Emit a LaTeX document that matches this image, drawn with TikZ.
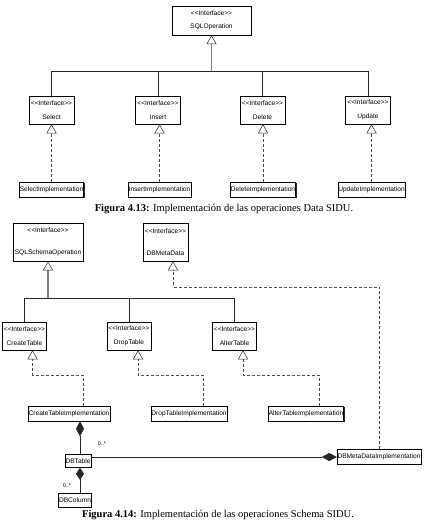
\documentclass[tikz,border=0pt]{standalone}
\usepackage{fontspec}
\setmainfont{Liberation Serif}
\setsansfont{Liberation Sans}
\usetikzlibrary{arrows.meta,shadows}
\tikzset{
  box/.style={rectangle, fill=white, draw=black, line width=0.5pt, inner sep=0.5pt,
    general shadow={shadow xshift=0.9pt, shadow yshift=-0.9pt, fill=black!85}},
  iface/.style={box, minimum width=45pt, minimum height=28pt, align=center,
    font=\sffamily\fontsize{6.6}{14}\selectfont},
  impl/.style={box, minimum height=15pt, font=\sffamily\fontsize{6.6}{8}\selectfont},
  gen/.style={draw=black!85, line width=0.5pt},
  trunk/.style={draw=black!50, line width=1.4pt,
    -{Triangle[open, length=9pt, width=10pt, line width=0.5pt, color=black!85]}},
  real/.style={draw=black!70, line width=0.5pt, dash pattern=on 3pt off 2pt,
    -{Triangle[open, length=9pt, width=10pt, color=black!85]}},
  comp/.style={draw=black!85, line width=0.5pt, {Diamond[length=15pt, width=8pt]}-},
  mult/.style={font=\sffamily\fontsize{5.5}{6}\selectfont, inner sep=0pt},
  figcap/.style={font=\fontsize{10.5}{12}\selectfont, inner sep=0pt}
}
\newcommand{\iname}[1]{<\kern0pt<Interface>\kern0pt>\\#1}

\begin{document}
\begin{tikzpicture}[x=1pt, y=-1pt]
  \useasboundingbox[fill=white] (0,0) rectangle (430,527);

  \node[iface, minimum width=79pt, minimum height=29pt, font=\sffamily\fontsize{6.6}{13}\selectfont]
    (sqlop) at (211.5,20.5) {\iname{SQLOperation}};
  \node[iface] (sel) at (51.5,110) {\iname{Select}};
  \node[iface] (ins) at (158,110) {\iname{Insert}};
  \node[iface] (del) at (262.5,110) {\iname{Delete}};
  \node[iface] (upd) at (368,110) {\iname{Update}};
  \node[impl] (seli) at (51.5,189.5) {SelectImplementation};
  \node[impl] (insi) at (159.5,189.5) {InsertImplementation};
  \node[impl] (deli) at (263,189.5) {DeleteImplementation};
  \node[impl] (updi) at (371.5,189.5) {UpdateImplementation};
  \coordinate (bar1) at (211.5,71);

  \draw[gen] (sel.north) |- (bar1); \draw[gen] (ins.north) |- (bar1);
  \draw[gen] (del.north) |- (bar1); \draw[gen] (upd.north) |- (bar1);
  \draw[trunk] (bar1) -- (sqlop.south);
  \draw[real] (seli.north) -- (seli.north |- sel.south);
  \draw[real] (insi.north) -- (insi.north |- ins.south);
  \draw[real] (deli.north) -- (deli.north |- del.south);
  \draw[real] (updi.north) -- (updi.north |- upd.south);

  \node[figcap] (cap1) at (224,209) {\textbf{Figura 4.13:} Implementación de las operaciones Data SIDU.};

  \node[iface, minimum width=70pt, minimum height=38pt, font=\sffamily\fontsize{6.6}{22}\selectfont]
    (sso) at (48,242) {\iname{SQLSchemaOperation}};
  \node[iface, minimum height=38pt, font=\sffamily\fontsize{6.6}{22}\selectfont]
    (dbmd) at (165.5,242) {\iname{DBMetaData}};
  \node[iface, minimum width=44pt] (ct) at (24.5,336) {\iname{CreateTable}};
  \node[iface, minimum width=44pt] (dt) at (129,336) {\iname{DropTable}};
  \node[iface, minimum width=44pt] (alt) at (234.5,336) {\iname{AlterTable}};
  \node[impl] (cti) at (69,413.5) {CreateTableImplementation};
  \node[impl] (dti) at (189,413.5) {DropTableImplementation};
  \node[impl] (alti) at (306,413.5) {AlterTableImplementation};
  \node[impl] (dbmi) at (379,457) {DBMetaDataImplementation};
  \node[impl, minimum height=13pt] (dbt) at (78,461) {DBTable};
  \node[impl, minimum height=14pt] (dbc) at (75,500) {DBColumn};
  \coordinate (bar2) at (48,298);

  \draw[gen] (ct.north) |- (bar2); \draw[gen] (dt.north) |- (bar2);
  \draw[gen] (alt.north) |- (bar2);
  \draw[trunk] (bar2) -- (sso.south);
  \draw[real] ([xshift=14pt]cti.north) -- ++(0,-31) -| ([xshift=8pt]ct.south);
  \draw[real] ([xshift=14pt]dti.north) -- ++(0,-31) -| ([xshift=9pt]dt.south);
  \draw[real] ([xshift=13pt]alti.north) -- ++(0,-31) -| ([xshift=8.5pt]alt.south);
  \draw[real] (dbmi.north) -- ++(0,-162.5) -| ([xshift=7.5pt]dbmd.south);

  \draw[comp] ([xshift=2pt]dbt.north |- cti.south) -- ([xshift=2pt]dbt.north);
  \draw[comp, {Diamond[length=12pt, width=8pt]}-] ([xshift=2pt]dbt.south) -- ([xshift=2pt]dbt.south |- dbc.north);
  \draw[comp] (dbmi.west) -- (dbmi.west -| dbt.east);
  \node[mult] (m1) at (102,444) {0..*};
  \node[mult] (m2) at (67,486) {0..*};

  \node[figcap] (cap2) at (218,515) {\textbf{Figura 4.14:} Implementación de las operaciones Schema SIDU.};
\end{tikzpicture}
\end{document}
